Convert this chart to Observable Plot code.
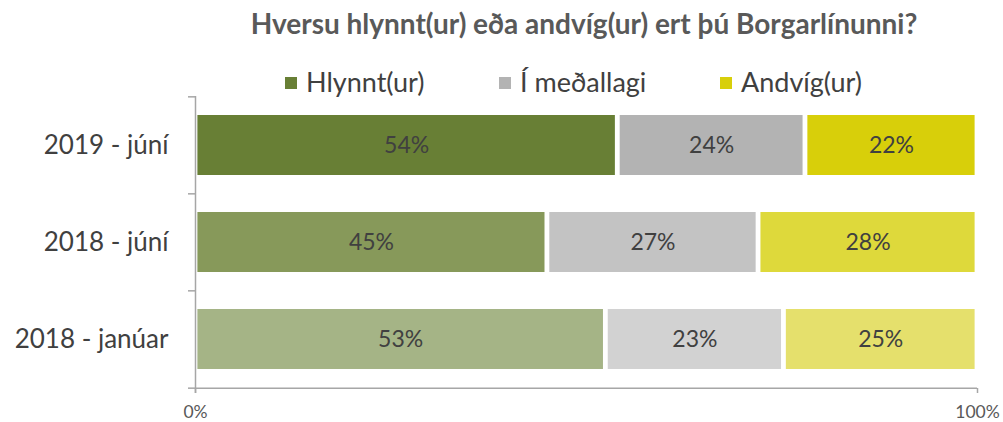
<!DOCTYPE html>
<html>
<head>
<meta charset="utf-8">
<script src="https://cdn.jsdelivr.net/npm/d3@7"></script>
<script src="https://cdn.jsdelivr.net/npm/@observablehq/plot@0.6"></script>
<style>
  html, body { margin: 0; padding: 0; background: #ffffff; }
  #wrap { position: relative; width: 1003px; height: 422px; overflow: hidden; font-family: Lato, "Open Sans", sans-serif; background: #ffffff; }
  #title { position: absolute; left: 584px; top: 9px; transform: translateX(-50%); white-space: nowrap;
           font-weight: bold; font-size: 28px; line-height: 1; color: #595959; z-index: 2; }
  .leg { position: absolute; top: 68px; height: 30px; white-space: nowrap; z-index: 2; }
  .leg .sw { position: absolute; left: 0; top: 9px; width: 12px; height: 12px; }
  .leg .lab { position: absolute; left: 21px; top: 0; font-size: 27px; line-height: 1; color: #404040; }
  #chart { position: absolute; left: 0; top: 90px; z-index: 1; }
</style>
</head>
<body>
<div id="wrap">
  <div id="title"></div>
  <div id="legend"></div>
  <div id="chart"></div>
</div>
<script>
// ---- data ----
const titleText = "Hversu hlynnt(ur) eða andvíg(ur) ert þú Borgarlínunni?";
const periods = ["2019 - júní", "2018 - júní", "2018 - janúar"];
const seriesNames = ["Hlynnt(ur)", "Í meðallagi", "Andvíg(ur)"];
const hlynnt = [54, 45, 53];
const imedallagi = [24, 27, 23];
const andvig = [22, 28, 25];
const xTicks = [0, 1];

// ---- styling palettes (one shade per period) ----
const hlynntShades = ["#687F35", "#87995A", "#A5B486"];
const imedallagiShades = ["#B3B3B3", "#C3C3C3", "#D2D2D2"];
const andvigShades = ["#D8CF0A", "#DED93B", "#E5E06C"];
const legendLeft = [285, 499, 720];

const seriesValues = [hlynnt, imedallagi, andvig];
const seriesShades = [hlynntShades, imedallagiShades, andvigShades];

const data = periods.flatMap((p, i) =>
  seriesNames.map((s, j) => ({
    period: p,
    series: s,
    value: seriesValues[j][i],
    color: seriesShades[j][i]
  }))
);

// title
document.getElementById("title").textContent = titleText;

// legend
const legend = document.getElementById("legend");
seriesNames.forEach((s, j) => {
  const item = document.createElement("div");
  item.className = "leg";
  item.style.left = legendLeft[j] + "px";
  const sw = document.createElement("div");
  sw.className = "sw";
  sw.style.background = seriesShades[j][0];
  const lab = document.createElement("div");
  lab.className = "lab";
  lab.textContent = s;
  item.appendChild(sw);
  item.appendChild(lab);
  legend.appendChild(item);
});

// chart
const H = 332, MT = 6, MB = 34;
const step = (H - MT - MB) / periods.length;
const half = step / 2;
const axisColor = "#A6A6A6";

const chart = Plot.plot({
  width: 1003,
  height: H,
  marginTop: MT,
  marginBottom: MB,
  marginLeft: 195,
  marginRight: 26,
  x: { domain: [0, 1], axis: null },
  y: { domain: periods, paddingInner: 0.383, paddingOuter: 0.1915, axis: null },
  color: { type: "identity" },
  style: { fontFamily: "Lato, 'Open Sans', sans-serif", background: "transparent", overflow: "visible" },
  marks: [
    Plot.barX(data, Plot.stackX({
      y: "period", x: "value", fill: "color", offset: "normalize",
      insetLeft: 2.4, insetRight: 2.4
    })),
    Plot.text(data, Plot.stackX({
      y: "period", x: "value", offset: "normalize",
      text: d => d.value + "%", fill: "#404040", fontSize: 23
    })),
    // vertical axis line
    Plot.ruleX([0], { stroke: axisColor, strokeWidth: 1.5, insetBottom: -5 }),
    // horizontal axis line
    Plot.ruleY([periods[periods.length - 1]], { y: d => d, dy: half, stroke: axisColor, strokeWidth: 1.5 }),
    // category boundary ticks
    Plot.ruleY(periods, { y: d => d, x1: 0, x2: 0, insetLeft: -7, dy: -half, stroke: axisColor, strokeWidth: 1.5 }),
    Plot.ruleY([periods[periods.length - 1]], { y: d => d, x1: 0, x2: 0, insetLeft: -7, dy: half, stroke: axisColor, strokeWidth: 1.5 }),
    Plot.axisY({ tickSize: 0, tickPadding: 27, fontSize: 26, color: "#404040", label: null }),
    Plot.axisX({
      ticks: xTicks, tickFormat: d3.format(".0%"), tickSize: 5, tickPadding: 12,
      fontSize: 17.5, stroke: axisColor, fill: "#595959", strokeWidth: 1.5, label: null
    })
  ]
});
document.getElementById("chart").appendChild(chart);
</script>
</body>
</html>
